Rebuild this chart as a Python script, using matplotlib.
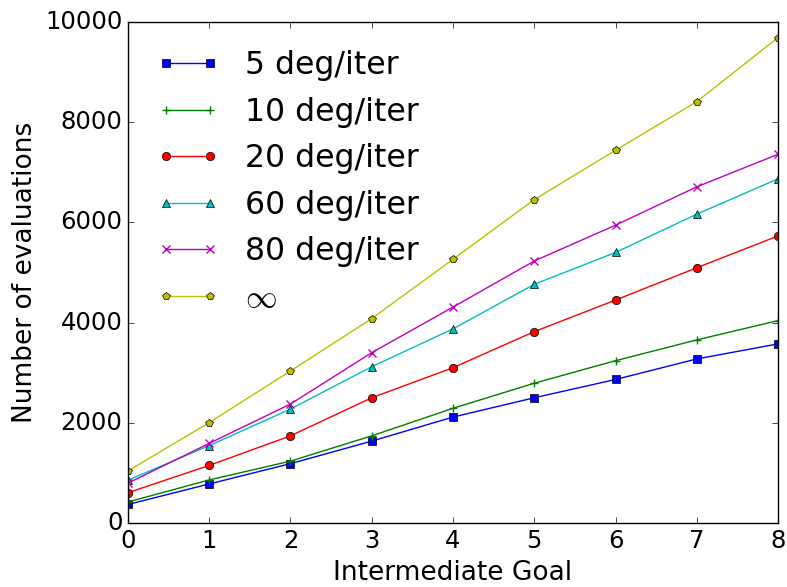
import matplotlib
matplotlib.use("Agg")
import matplotlib.pyplot as plt

goals = [0, 1, 2, 3, 4, 5, 6, 7, 8]

evals_5 = [370, 780, 1185, 1635, 2115, 2500, 2865, 3275, 3575]
evals_10 = [420, 860, 1235, 1740, 2290, 2790, 3240, 3655, 4040]
evals_20 = [605, 1150, 1740, 2500, 3100, 3820, 4450, 5095, 5730]
evals_60 = [855, 1545, 2275, 3120, 3875, 4765, 5400, 6165, 6870]
evals_80 = [795, 1590, 2375, 3400, 4310, 5230, 5945, 6710, 7360]
evals_inf = [1040, 2005, 3035, 4080, 5265, 6455, 7440, 8410, 9690]

labels = ["5 deg/iter", "10 deg/iter", "20 deg/iter", "60 deg/iter", "80 deg/iter", r"$\infty$"]
markers = ["s", "+", "o", "^", "x", "p"]
colors = ["b", "g", "r", "c", "m", "y"]

plt.style.use("classic")
fig = plt.figure(figsize=(7.87, 5.87), dpi=100, facecolor="white")
ax = fig.add_axes([0.1626, 0.109, 0.8260, 0.8535])

series = [evals_5, evals_10, evals_20, evals_60, evals_80, evals_inf]
for ys, lab, mk, col in zip(series, labels, markers, colors):
    ax.plot(goals, ys, color=col, marker=mk, label=lab, markersize=6,
            markeredgewidth=0.5 if mk not in ("+", "x") else 1)

ax.set_xlim(0, 8)
ax.set_ylim(0, 10000)
ax.set_xlabel("Intermediate Goal", fontsize=19)
ax.set_ylabel("Number of evaluations", fontsize=19)
ax.tick_params(labelsize=17.5)

ax.legend(loc="upper left", frameon=False, numpoints=2, fontsize=22.7,
          labelspacing=0.49)

fig.savefig("out.png", dpi=100, facecolor="white")
